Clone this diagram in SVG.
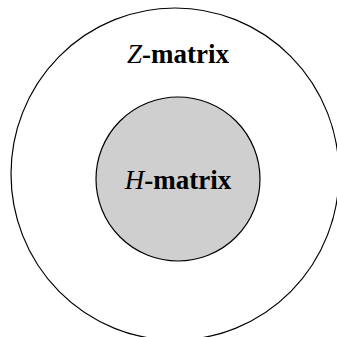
<svg xmlns="http://www.w3.org/2000/svg" width="337" height="337" viewBox="0 0 337 337">
<style>
.ring{fill:none;stroke:#000;stroke-width:1.2}
.core{fill:#cfcfcf;stroke:#000;stroke-width:1.2}
.lbl{font-family:"Liberation Serif","Times New Roman",serif;font-size:27px;font-weight:bold;fill:#000;text-anchor:middle}
.v{font-style:italic;font-weight:normal}
</style>
<rect width="337" height="337" fill="#fff"/>
<g id="z-matrix">
<ellipse class="ring" cx="175" cy="174" rx="164" ry="166"/>
<text class="lbl" x="178" y="63"><tspan class="v">Z</tspan>-matrix</text>
</g>
<g id="h-matrix">
<circle class="core" cx="178" cy="179" r="82"/>
<text class="lbl" x="178" y="189"><tspan class="v">H</tspan>-matrix</text>
</g>
<g id="connectors"/>
</svg>
